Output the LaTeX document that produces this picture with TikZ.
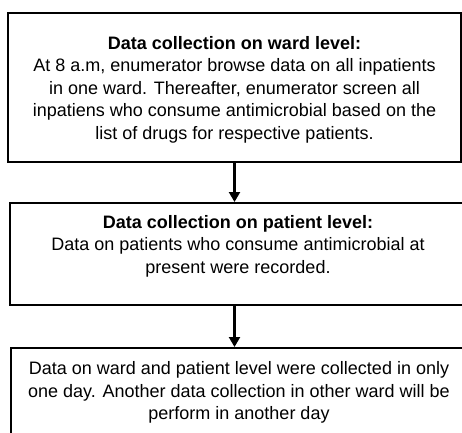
\documentclass[tikz,border=0pt]{standalone}
\usepackage{fontspec}
\setmainfont{Liberation Sans}
\usetikzlibrary{arrows.meta}
\begin{document}
\begin{tikzpicture}[x=1pt,y=-1pt,
  box/.style={draw=black, line width=2pt, rectangle, inner sep=0pt},
  txt/.style={align=center, font=\fontsize{18}{22.5}\selectfont, inner sep=0pt},
  arr/.style={line width=2.2pt, -{Triangle[width=11pt,length=10pt]}}]
\useasboundingbox (0,0) rectangle (462,432);
\node[box, minimum width=453pt, minimum height=149pt] (b1) at (234.5,87.5) {};
\node[box, minimum width=458pt, minimum height=102pt] (b2) at (239,254) {};
\node[box, minimum width=456pt, minimum height=102pt] (b3) at (239,399) {};
\node[txt] (t1) at (234.5,89.5) {\textbf{Data collection on ward level:}\\
At 8 a.m, enumerator browse data on all inpatients\\
in one ward. Thereafter, enumerator screen all\\
inpatiens who consume antimicrobial based on the\\
list of drugs for respective patients.};
\node[txt] (t2) at (238,246) {\textbf{Data collection on patient level:}\\
Data on patients who consume antimicrobial at\\
present were recorded.};
\node[txt] (t3) at (239,392.5) {Data on ward and patient level were collected in only\\
one day. Another data collection in other ward will be\\
perform in another day};
\draw[arr] (b1.south) -- (b1.south |- b2.north);
\draw[arr] (b2.south -| b1.south) -- (b3.north -| b1.south);
\end{tikzpicture}
\end{document}
